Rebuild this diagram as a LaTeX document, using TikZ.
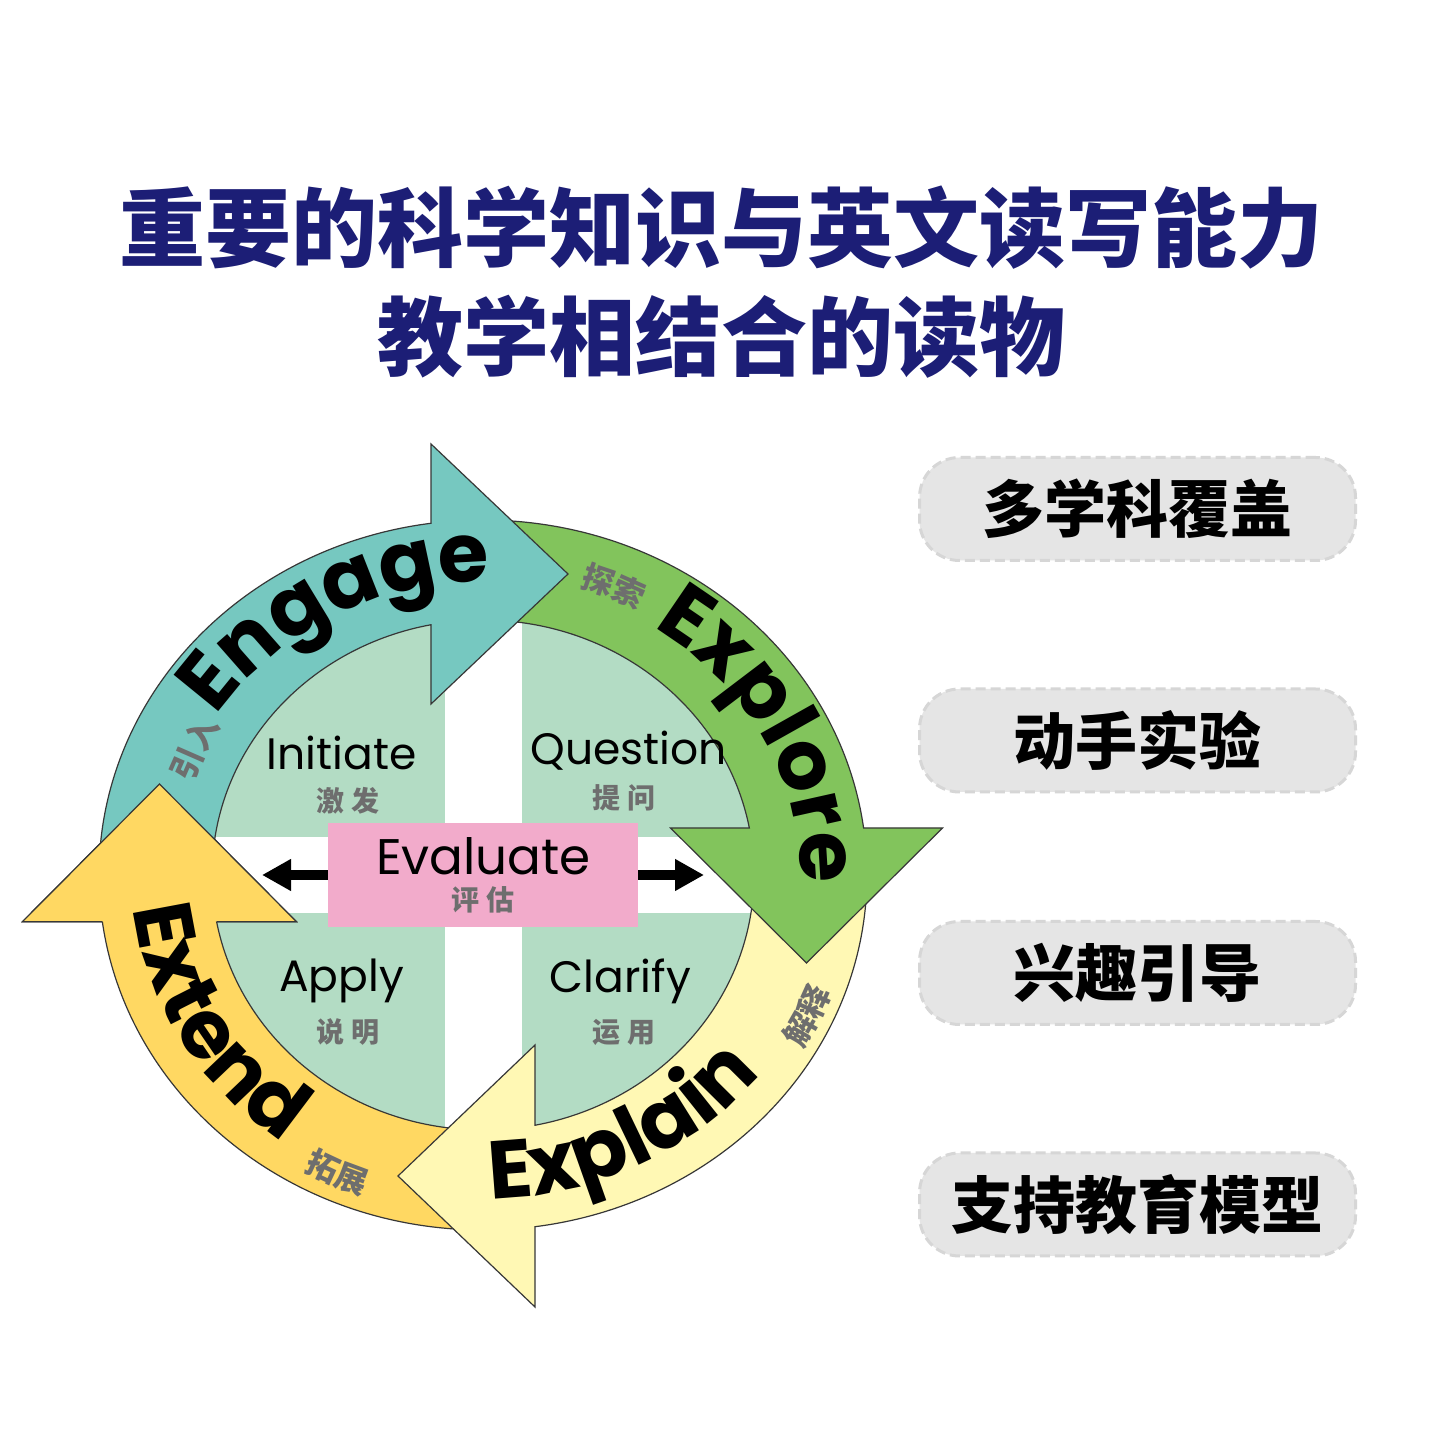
\documentclass[tikz,border=0pt]{standalone}
\usepackage{fontspec}
\newfontfamily\cjk{Noto Sans CJK SC}
\newfontfamily\popf{Poppins}
\usetikzlibrary{decorations.text,arrows.meta}
\definecolor{tealA}{RGB}{118,200,192}
\definecolor{greenA}{RGB}{130,196,92}
\definecolor{lyellowA}{RGB}{255,248,180}
\definecolor{yellowA}{RGB}{255,216,98}
\definecolor{quadA}{RGB}{179,220,196}
\definecolor{pinkA}{RGB}{242,171,203}
\definecolor{subgray}{RGB}{110,110,110}
\definecolor{outlinec}{RGB}{55,55,55}
\definecolor{navyA}{RGB}{28,30,118}
\definecolor{boxgray}{RGB}{229,229,229}
\definecolor{boxedge}{RGB}{214,214,214}
\newcommand\ringbig{\popf\bfseries\fontsize{41pt}{44pt}\selectfont}
\newcommand\ringsmall{\cjk\bfseries\fontsize{16pt}{18pt}\selectfont\color{subgray}}
\begin{document}
\begin{tikzpicture}[x=0.5pt,y=0.5pt,
  ringline/.style={draw=outlinec, line width=0.6pt, line join=miter},
  quadlbl/.style={anchor=base, inner sep=0, font=\popf\fontsize{22pt}{26pt}\selectfont},
  evallbl/.style={anchor=base, inner sep=0, font=\popf\fontsize{25pt}{28pt}\selectfont},
  quadsub/.style={inner sep=0, text=subgray, font=\cjk\bfseries\fontsize{14pt}{16pt}\selectfont},
  titlelbl/.style={inner sep=0, text=navyA, font=\cjk\bfseries\fontsize{43pt}{48pt}\selectfont},
  pill/.style={rounded corners=20pt, fill=boxgray, draw=boxedge, line width=1.5pt,
    dash pattern=on 5pt off 2.5pt, minimum width=218pt, minimum height=51.5pt, inner sep=0,
    font=\cjk\bfseries\fontsize{31pt}{36pt}\selectfont},
  evbox/.style={fill=pinkA, inner sep=0, minimum width=155pt, minimum height=52.2pt},
  evarrow/.style={line width=5pt, -{Triangle[length=14.5pt,width=15pt]}}
]
\useasboundingbox (0,0) rectangle (1440,1440);
\fill[white] (0,0) rectangle (1440,1440);

% title
\node[titlelbl] (t1) at (721,1212) {重要的科学知识与英文读写能力};
\node[titlelbl] (t2) at (721.5,1103) {教学相结合的读物};

% pills
\node[pill] (p1) at (1137.5,931) {多学科覆盖};
\node[pill] (p2) at (1137.5,699.5) {动手实验};
\node[pill] (p3) at (1137.5,467) {兴趣引导};
\node[pill] (p4) at (1137.5,235.5) {支持教育模型};

% quadrants
\begin{scope}
  \clip (483,565) ellipse [x radius=271, y radius=255];
  \fill[quadA] (150,603.3) rectangle (445,900);
  \fill[quadA] (522,603.3) rectangle (820,900);
  \fill[quadA] (150,200) rectangle (445,527);
  \fill[quadA] (522,200) rectangle (820,527);
\end{scope}

% ring arrows
\begin{scope}[shift={(483,565)}]
  % Extend
  \path[ringline, fill=yellowA] (266.57:384 and 355)
    arc[start angle=266.57, end angle=187.56, x radius=384, y radius=355]
    -- (-460.55,-46.7) -- (-323.55,91) -- (-186.55,-46.7)
    -- (190.55:271 and 255)
    arc[start angle=190.55, end angle=265.13, x radius=271, y radius=255] -- cycle;
  % Explain
  \path[ringline, fill=lyellowA] (-3.71:384 and 355)
    arc[start angle=-3.71, end angle=-82.22, x radius=384, y radius=355]
    -- (52,-432) -- (-85,-301) -- (52,-170)
    -- (-78.94:271 and 255)
    arc[start angle=-78.94, end angle=-5.17, x radius=271, y radius=255] -- cycle;
  % Explore
  \path[ringline, fill=greenA] (85.67:384 and 355)
    arc[start angle=85.67, end angle=7.61, x radius=384, y radius=355]
    -- (459.5,47) -- (323.5,-88) -- (187.5,47)
    -- (10.62:271 and 255)
    arc[start angle=10.62, end angle=83.86, x radius=271, y radius=255] -- cycle;
  % Engage
  \path[ringline, fill=tealA] (175.96:384 and 355)
    arc[start angle=175.96, end angle=97.78, x radius=384, y radius=355]
    -- (-52,431) -- (85,301) -- (-52,171)
    -- (101.06:271 and 255)
    arc[start angle=101.06, end angle=174.37, x radius=271, y radius=255] -- cycle;
  % Extend head on top of Engage
  \fill[yellowA] (-460.55,-46.7) -- (-323.55,91) -- (-186.55,-46.7) -- cycle;
  \draw[ringline] (187.56:384 and 355) -- (-460.55,-46.7) -- (-323.55,91) -- (-186.55,-46.7) -- (190.55:271 and 255);

  % ring labels
  \path[decorate, decoration={text along path, text align=center, text={|\ringbig|Engage}}]
    (163.5:317 and 293) arc[start angle=163.5, end angle=73.5, x radius=317, y radius=293];
  \path[decorate, decoration={text along path, text align=center, text={|\ringbig|Explore}}]
    (72.5:317 and 293) arc[start angle=72.5, end angle=-17.5, x radius=317, y radius=293];
  \path[decorate, decoration={text along path, text align=center, text={|\ringbig|Explain}}]
    (-107.7:351 and 324) arc[start angle=-107.7, end angle=-17.7, x radius=351, y radius=324];
  \path[decorate, decoration={text along path, text align=center, text={|\ringbig|Extend}}]
    (165:351 and 324) arc[start angle=165, end angle=255, x radius=351, y radius=324];
  \path[decorate, decoration={text along path, text align=center, text={|\ringsmall|引入}}]
    (175:307 and 284) arc[start angle=175, end angle=135, x radius=307, y radius=284];
  \path[decorate, decoration={text along path, text align=center, text={|\ringsmall|探索}}]
    (87:327 and 302) arc[start angle=87, end angle=47, x radius=327, y radius=302];
  \path[decorate, decoration={text along path, text align=center, text={|\ringsmall|解释}}]
    (-45:370 and 343) arc[start angle=-45, end angle=-5, x radius=370, y radius=343];
  \path[decorate, decoration={text along path, text align=center, text={|\ringsmall|拓展}}]
    (225.5:366 and 339) arc[start angle=225.5, end angle=265.5, x radius=366, y radius=339];
\end{scope}

% evaluate
\node[evbox] (eval) at (483,565) {};
\coordinate (lefttip) at (262,565);
\coordinate (righttip) at (704,565);
\draw[evarrow] (eval.west) -- (lefttip);
\draw[evarrow] (eval.east) -- (righttip);
\node[evallbl] (evt) at (483.5,565) {Evaluate};
\node[quadsub] (evs) at (483,540) {评\hspace{4pt}估};

% quadrant labels
\node[quadlbl] (q1) at (341.5,670) {Initiate};
\node[quadsub] (q1s) at (348,639) {激\hspace{4pt}发};
\node[quadlbl] (q2) at (628.5,675) {Question};
\node[quadsub] (q2s) at (624,642) {提\hspace{4pt}问};
\node[quadlbl] (q3) at (341.5,448) {Apply};
\node[quadsub] (q3s) at (348,408) {说\hspace{4pt}明};
\node[quadlbl] (q4) at (620.5,447) {Clarify};
\node[quadsub] (q4s) at (624,408) {运\hspace{4pt}用};
\end{tikzpicture}
\end{document}
